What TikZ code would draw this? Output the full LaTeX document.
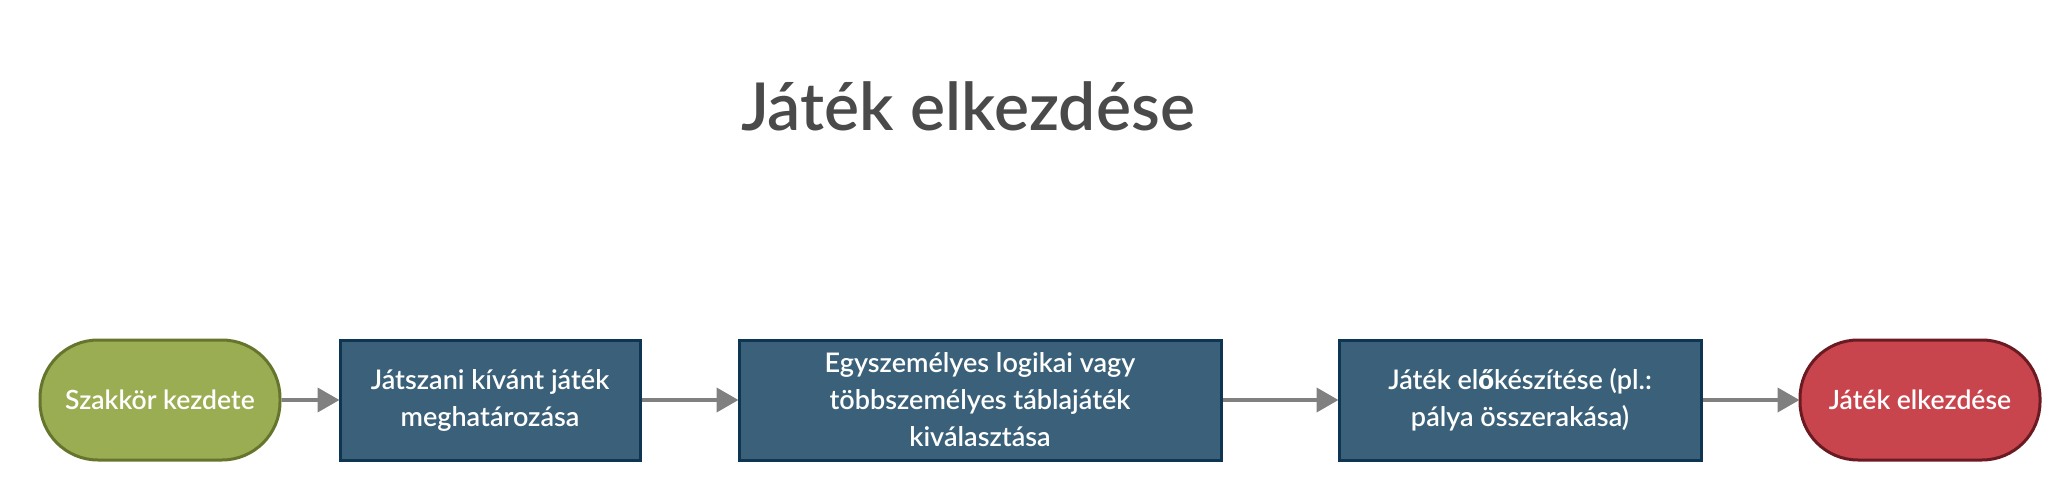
\documentclass[tikz,border=0pt]{standalone}
\usepackage{fontspec}
\setmainfont{Lato}
\newfontfamily\latosb{Lato Semibold}
\usetikzlibrary{arrows.meta}
\definecolor{greenfill}{HTML}{9BAD52}
\definecolor{greenline}{HTML}{66752E}
\definecolor{bluefill}{HTML}{3A6179}
\definecolor{blueline}{HTML}{0E3552}
\definecolor{redfill}{HTML}{C9454E}
\definecolor{redline}{HTML}{6A1A20}
\definecolor{titlegray}{HTML}{4A4A4A}
\definecolor{arrowgray}{HTML}{808080}
\tikzset{
  pill/.style={draw, line width=3pt, rounded corners=58pt, minimum width=240pt, minimum height=120pt, inner sep=0pt, text=white, font=\latosb\fontsize{26.5}{36}\selectfont, align=center},
  stepbox/.style={draw=blueline, fill=bluefill, line width=3pt, inner sep=0pt, text=white, font=\latosb\fontsize{27}{37}\selectfont, align=center, minimum height=120pt},
  flow/.style={draw=arrowgray, line width=4pt, -{Triangle[length=22pt,width=24pt]}, shorten >=-1pt},
}
\begin{document}
\begin{tikzpicture}[x=1pt,y=-1pt]
\useasboundingbox (0,0) rectangle (2072,500);
\node[text=titlegray, font=\latosb\fontsize{66}{70}\selectfont] (title) at (968,106) {Játék elkezdése};
\node[pill, fill=greenfill, draw=greenline] (start) at (160,400) {Szakkör kezdete};
\node[stepbox, minimum width=300pt] (b1) at (490,400) {Játszani kívánt játék\\meghatározása};
\node[stepbox, minimum width=482pt] (b2) at (980,400) {Egyszemélyes logikai vagy\\többszemélyes táblajáték\\kiválasztása};
\node[stepbox, minimum width=362pt] (b3) at (1520,400) {Játék el{\bfseries ő}készítése (pl.:\\pálya összerakása)};
\node[pill, fill=redfill, draw=redline] (end) at (1920,400) {Játék elkezdése};
\draw[flow] (start) -- (b1);
\draw[flow] (b1) -- (b2);
\draw[flow] (b2) -- (b3);
\draw[flow] (b3) -- (end);
\end{tikzpicture}
\end{document}
